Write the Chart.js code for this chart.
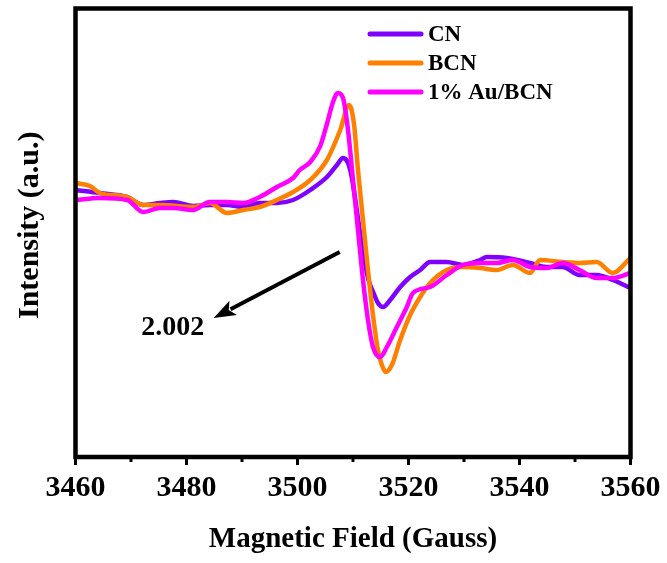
<!DOCTYPE html>
<html><head><meta charset="utf-8">
<script src="https://cdn.jsdelivr.net/npm/chart.js@4"></script>
<style>html,body{margin:0;padding:0;background:#fff}canvas{display:block}</style>
</head><body>
<canvas id="c" width="667" height="563"></canvas>
<script>
const seriesNames = ['CN', 'BCN', '1% Au/BCN'];
const seriesColors = ['#8000FF', '#FF8000', '#FF00FF'];

const cnField = [3460,3464.4,3469.3,3472.2,3475.2,3477.6,3481.2,3484.2,3487.3,3490.2,3493.2,3496.3,3499.2,3502.3,3505.3,3507.1,3508.2,3509.1,3509.8,3510.5,3511.2,3512.0,3512.8,3513.7,3514.5,3515.4,3516.7,3518.5,3520.3,3522.1,3523.9,3526.9,3529.8,3532.9,3534.1,3537.7,3541.9,3544.9,3547.8,3550.8,3553.9,3556.8,3560];
const cnIntensity = [268,265,261,253,255,256,252,253,253,251,255,255,258,268,281,293,300,295,280,255,228,200,178,165,155,151,158,171,181,188,196,196,193,198,201,200,195,191,191,183,183,178,170];

const bcnField = [3460,3462.6,3464.4,3469.3,3472.2,3475.2,3481.2,3484.2,3487.3,3490.2,3493.2,3496.3,3499.2,3502.3,3505.3,3507.7,3509.3,3510.2,3510.9,3511.8,3512.7,3513.6,3514.5,3515.2,3515.9,3517.0,3518.5,3520.3,3522.1,3523.9,3526.9,3529.8,3532.9,3535.9,3538.8,3541.9,3543.7,3547.8,3550.8,3553.9,3556.8,3560];
const bcnIntensity = [275,272,265,261,253,253,251,255,245,248,251,258,266,278,298,328,353,333,288,238,188,143,108,93,86,93,118,143,161,175,188,191,190,188,193,185,198,196,195,196,185,200];

const auField = [3460,3464.4,3469.3,3472.2,3475.2,3477.6,3481.2,3484.2,3487.3,3490.2,3493.2,3496.3,3499.2,3500.4,3502.3,3504.1,3505.3,3506.4,3507.3,3508.2,3509.1,3510.0,3510.9,3511.8,3512.7,3513.6,3514.9,3516.1,3517.9,3519.7,3520.8,3523.9,3526.9,3529.8,3532.9,3535.9,3538.8,3541.9,3544.9,3547.8,3550.8,3553.9,3556.8,3560];
const auIntensity = [258,260,258,246,250,250,248,256,256,255,261,271,280,288,296,312,334,356,365,360,328,278,228,178,138,111,101,111,131,151,165,171,183,193,195,195,198,191,190,195,188,180,180,185];

const xTickValues = [3460, 3480, 3500, 3520, 3540, 3560];
const xTickLabels = ['3460', '3480', '3500', '3520', '3540', '3560'];
const xMinorTicks = [3470, 3490, 3510, 3530, 3550];

const arrowFrom = [3507.6, 206];
const arrowTo = [3484.9, 140];
const arrowText = '2.002';
const arrowTextAt = [3477.5, 123];

const FONT = "'Liberation Serif', 'Times New Roman', serif";

function pts(xs, ys) { return xs.map((v, i) => ({ x: v, y: ys[i] })); }

const frame = {
  id: 'frame',
  afterDraw(chart) {
    const { ctx, chartArea: a, scales: { x } } = chart;
    ctx.save();
    ctx.strokeStyle = '#000';
    ctx.lineWidth = 4.5;
    ctx.strokeRect(a.left, a.top, a.right - a.left, a.bottom - a.top);
    ctx.lineWidth = 3;
    xMinorTicks.forEach(v => {
      const px = x.getPixelForValue(v);
      ctx.beginPath(); ctx.moveTo(px, a.bottom); ctx.lineTo(px, a.bottom + 5); ctx.stroke();
    });
    ctx.restore();
  }
};

const legendPlugin = {
  id: 'customLegend',
  afterDraw(chart) {
    const { ctx } = chart;
    ctx.save();
    ctx.font = "bold 23px " + FONT;
    ctx.textBaseline = 'middle';
    ctx.textAlign = 'left';
    seriesNames.forEach((n, i) => {
      const y = 34 + i * 29;
      ctx.strokeStyle = seriesColors[i];
      ctx.lineWidth = 5;
      ctx.lineCap = 'round';
      ctx.beginPath(); ctx.moveTo(370, y); ctx.lineTo(421, y); ctx.stroke();
      ctx.fillStyle = '#000';
      ctx.fillText(n, 428, y + 1);
    });
    ctx.restore();
  }
};

const arrowPlugin = {
  id: 'arrow',
  afterDatasetsDraw(chart) {
    const { ctx, scales: { x, y } } = chart;
    const x0 = x.getPixelForValue(arrowFrom[0]), y0 = y.getPixelForValue(arrowFrom[1]);
    const x1 = x.getPixelForValue(arrowTo[0]), y1 = y.getPixelForValue(arrowTo[1]);
    const ang = Math.atan2(y1 - y0, x1 - x0);
    const hl = 22, hw = 8;
    const bx = x1 - hl * Math.cos(ang), by = y1 - hl * Math.sin(ang);
    ctx.save();
    ctx.strokeStyle = '#000'; ctx.fillStyle = '#000';
    ctx.lineWidth = 4;
    ctx.beginPath(); ctx.moveTo(x0, y0); ctx.lineTo(bx + 3 * Math.cos(ang), by + 3 * Math.sin(ang)); ctx.stroke();
    ctx.beginPath();
    ctx.moveTo(x1, y1);
    ctx.lineTo(bx + hw * Math.sin(ang), by - hw * Math.cos(ang));
    ctx.lineTo(bx + 5 * Math.cos(ang), by + 5 * Math.sin(ang));
    ctx.lineTo(bx - hw * Math.sin(ang), by + hw * Math.cos(ang));
    ctx.closePath(); ctx.fill();
    ctx.font = "bold 28px " + FONT;
    ctx.textAlign = 'center'; ctx.textBaseline = 'alphabetic';
    ctx.fillText(arrowText, x.getPixelForValue(arrowTextAt[0]), y.getPixelForValue(arrowTextAt[1]));
    ctx.restore();
  }
};

const common = { pointRadius: 0, borderWidth: 4.5, fill: false, tension: 0.4, cubicInterpolationMode: 'monotone', borderCapStyle: 'round', borderJoinStyle: 'round' };

new Chart(document.getElementById('c'), {
  type: 'line',
  data: {
    datasets: [
      Object.assign({ label: seriesNames[0], data: pts(cnField, cnIntensity), borderColor: seriesColors[0], order: 3 }, common),
      Object.assign({ label: seriesNames[1], data: pts(bcnField, bcnIntensity), borderColor: seriesColors[1], order: 2 }, common),
      Object.assign({ label: seriesNames[2], data: pts(auField, auIntensity), borderColor: seriesColors[2], order: 1 }, common)
    ]
  },
  options: {
    responsive: false,
    devicePixelRatio: 1,
    animation: false,
    layout: { padding: { left: 0, right: 36.5, top: 8.5, bottom: 0 } },
    plugins: { legend: { display: false }, tooltip: { enabled: false } },
    scales: {
      x: {
        type: 'linear', min: 3460, max: 3560,
        afterBuildTicks: s => { s.ticks = xTickValues.map(v => ({ value: v })); },
        afterFit: s => { s.height = 106; },
        ticks: {
          callback: (v) => { const i = xTickValues.indexOf(v); return i >= 0 ? xTickLabels[i] : ''; },
          font: { family: FONT, size: 30, weight: 'bold' }, color: '#000', padding: 5, maxRotation: 0, autoSkip: false
        },
        grid: { drawOnChartArea: false, tickLength: 8, tickWidth: 3, tickColor: '#000' },
        border: { display: false },
        title: { display: true, text: 'Magnetic Field (Gauss)', color: '#000', font: { family: FONT, size: 29, weight: 'bold' }, padding: { top: 0, bottom: 6 } }
      },
      y: {
        type: 'linear', min: 1, max: 449.5,
        afterFit: s => { s.width = 75.5; },
        ticks: { display: false },
        grid: { display: false },
        border: { display: false },
        title: { display: true, text: '  Intensity (a.u.)', color: '#000', font: { family: FONT, size: 30, weight: 'bold' }, padding: { top: 12, bottom: 0 } }
      }
    }
  },
  plugins: [frame, legendPlugin, arrowPlugin]
});
</script>
</body></html>
